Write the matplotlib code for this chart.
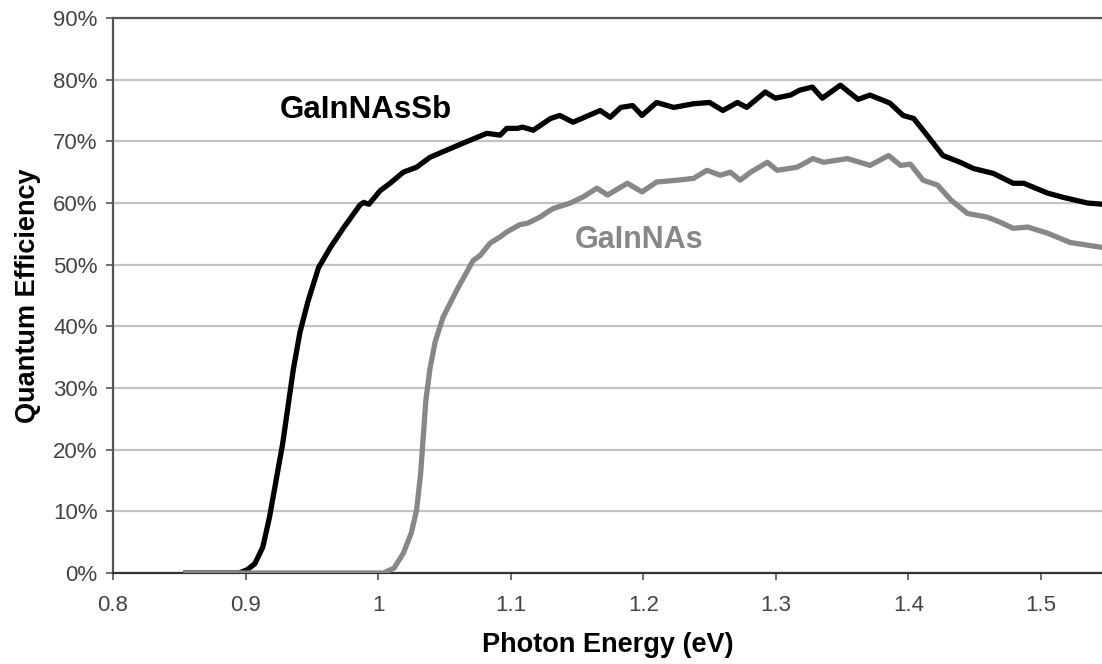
import matplotlib
matplotlib.use("Agg")
import matplotlib.pyplot as plt
from matplotlib.ticker import PercentFormatter

plt.rcParams['font.family'] = ['Liberation Sans', 'DejaVu Sans']

# GaInNAsSb (black)
sb_energy = [0.855, 0.895, 0.901, 0.907, 0.913, 0.918, 0.923, 0.928, 0.932, 0.936,
             0.941, 0.947, 0.955, 0.964, 0.974, 0.986, 0.989, 0.993, 1.0015, 1.009,
             1.019, 1.029, 1.039, 1.052, 1.064, 1.082, 1.092, 1.097, 1.105, 1.109,
             1.117, 1.130, 1.137, 1.147, 1.1675, 1.175, 1.183, 1.192, 1.199, 1.210,
             1.223, 1.238, 1.250, 1.260, 1.271, 1.278, 1.292, 1.2996, 1.311, 1.318,
             1.3275, 1.335, 1.3487, 1.362, 1.371, 1.386, 1.396, 1.404, 1.414, 1.426,
             1.439, 1.449, 1.464, 1.479, 1.487, 1.505, 1.517, 1.535, 1.546]
sb_qe = [0, 0, 0.5, 1.5, 4.2, 9, 15, 21, 27, 33,
         39, 44, 49.5, 52.8, 56, 59.6, 60.1, 59.8, 62, 63.2,
         65, 65.8, 67.4, 68.6, 69.7, 71.3, 71, 72.1, 72.1, 72.3,
         71.8, 73.7, 74.2, 73.1, 75, 73.9, 75.5, 75.8, 74.2, 76.3,
         75.5, 76.1, 76.3, 75, 76.3, 75.5, 78, 77, 77.5, 78.3,
         78.8, 77, 79.1, 76.8, 77.5, 76.2, 74.2, 73.7, 71, 67.7,
         66.6, 65.6, 64.8, 63.2, 63.2, 61.6, 60.9, 60, 59.8]

# GaInNAs (grey)
n_energy = [0.855, 1.004, 1.012, 1.019, 1.025, 1.029, 1.032, 1.034, 1.036, 1.039,
            1.043, 1.049, 1.0596, 1.0717, 1.077, 1.0845, 1.092, 1.097, 1.107, 1.1125,
            1.122, 1.1275, 1.132, 1.145, 1.1547, 1.165, 1.173, 1.188, 1.199, 1.210,
            1.2257, 1.238, 1.248, 1.258, 1.2657, 1.273, 1.281, 1.2936, 1.301, 1.316,
            1.328, 1.336, 1.354, 1.371, 1.385, 1.394, 1.4015, 1.411, 1.422, 1.432,
            1.4445, 1.4596, 1.469, 1.479, 1.490, 1.505, 1.522, 1.546]
n_qe = [0, 0, 0.8, 3.2, 6.5, 10.2, 16, 22, 28, 33,
        37.5, 41.5, 46, 50.7, 51.5, 53.5, 54.5, 55.3, 56.5, 56.7,
        57.7, 58.5, 59.1, 60, 61, 62.4, 61.3, 63.2, 61.8, 63.4,
        63.7, 64, 65.3, 64.5, 65, 63.7, 65, 66.6, 65.3, 65.8,
        67.2, 66.6, 67.2, 66.1, 67.7, 66.1, 66.3, 63.7, 62.9, 60.5,
        58.3, 57.7, 56.9, 55.9, 56.1, 55.1, 53.6, 52.8]

x_ticks = [0.8, 0.9, 1.0, 1.1, 1.2, 1.3, 1.4, 1.5]
x_tick_labels = ["0.8", "0.9", "1", "1.1", "1.2", "1.3", "1.4", "1.5"]
y_ticks = [0, 10, 20, 30, 40, 50, 60, 70, 80, 90]

W, H = 1102, 664
fig = plt.figure(figsize=(W / 100, H / 100), dpi=100)
ax = fig.add_axes([113 / W, (H - 573) / H, (W - 113) / W, (573 - 18) / H])

ax.set_xlim(0.8, 1.546)
ax.set_ylim(0, 90)
ax.set_yticks(y_ticks)
ax.yaxis.set_major_formatter(PercentFormatter(decimals=0))
ax.set_xticks(x_ticks)
ax.set_xticklabels(x_tick_labels)

ax.grid(axis='y', color='#c4c4c4', linewidth=1.6)
ax.set_axisbelow(True)

ax.plot(sb_energy, sb_qe, color='black', linewidth=3.8, solid_joinstyle='round', zorder=3)
ax.plot(n_energy, n_qe, color='#878787', linewidth=3.8, solid_joinstyle='round', zorder=4)

ax.text(0.991, 75.0, "GaInNAsSb", fontsize=22.5, fontweight='bold', color='black',
        ha='center', va='center')
ax.text(1.197, 54.0, "GaInNAs", fontsize=22, fontweight='bold', color='#878787',
        ha='center', va='center')

for s in ['left', 'bottom', 'top']:
    ax.spines[s].set_color('#555555')
    ax.spines[s].set_linewidth(1.6)
ax.spines['right'].set_visible(False)
ax.spines['bottom'].set_color('#333333')

ax.tick_params(axis='both', direction='out', length=5, width=1.2, color='#555555',
               labelsize=16, labelcolor='#444444')
ax.tick_params(axis='y', pad=6)
ax.tick_params(axis='x', pad=11)

ax.set_xlabel("Photon Energy (eV)", fontsize=19.5, fontweight='bold', labelpad=11)
ax.set_ylabel("Quantum Efficiency", fontsize=19.5, fontweight='bold', labelpad=9)

fig.savefig("out.png", dpi=100)
